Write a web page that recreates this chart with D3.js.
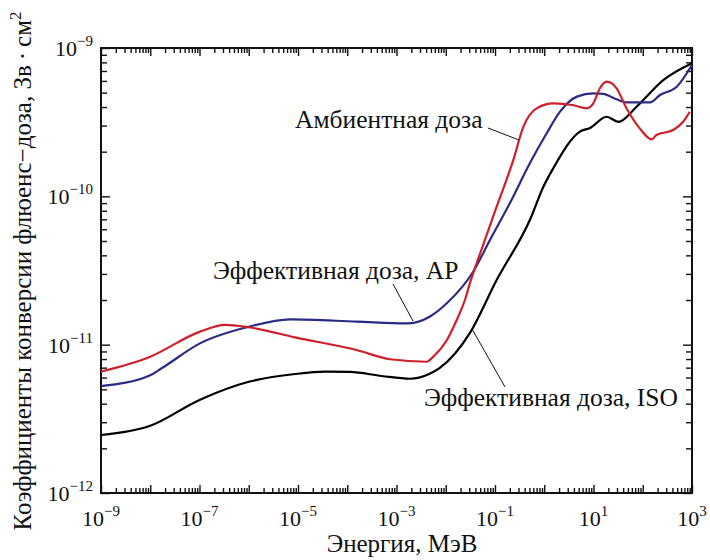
<!DOCTYPE html>
<html>
<head>
<meta charset="utf-8">
<script src="https://cdn.jsdelivr.net/npm/d3@7"></script>
<style>
  html, body { margin: 0; padding: 0; background: #fff; }
  svg text { font-family: "Liberation Serif", "DejaVu Serif", serif; fill: #111; }
</style>
</head>
<body>
<svg id="chart" width="710" height="560"></svg>
<script>
// Neutron fluence-to-dose conversion coefficients, Sv·cm², vs energy in MeV

// Ambient dose H*(10)
const ambientEnergy = [1e-9, 1e-8, 1e-7, 3.3e-7, 1e-6, 8.7e-6, 1.55e-4, 7.4e-4, 4.1e-3, 5.6e-3,
  0.0105, 0.0166, 0.0245, 0.031, 0.05, 0.108, 0.236, 0.376, 0.70, 1.53, 3.7, 7.3, 9.9, 13.5,
  18.6, 29.5, 46.8, 87, 151, 190, 417, 660, 900];
const ambientValue = [6.58e-12, 8.30e-12, 1.22e-11, 1.36e-11, 1.31e-11, 1.12e-11, 9.20e-12, 7.97e-12,
  7.67e-12, 8.30e-12, 1.07e-11, 1.46e-11, 2.00e-11, 2.6e-11, 4.13e-11, 8.51e-11, 1.76e-10, 2.94e-10,
  3.92e-10, 4.23e-10, 4.13e-10, 3.92e-10, 4.23e-10, 5.35e-10, 5.93e-10, 5.35e-10, 3.92e-10, 2.87e-10,
  2.42e-10, 2.59e-10, 2.80e-10, 3.18e-10, 3.72e-10];

// Effective dose, AP geometry
const apEnergy = [1e-9, 1e-8, 1.7e-8, 1.02e-7, 1e-6, 6.9e-6, 1.55e-4, 1.6e-3, 4.8e-3, 0.0105,
  0.036, 0.079, 0.20, 0.51, 1.12, 2.09, 4.6, 10, 15.8, 29.5, 46.8, 141, 224, 490, 1000];
const apValue = [5.26e-12, 6.23e-12, 6.93e-12, 1.02e-11, 1.32e-11, 1.48e-11, 1.43e-11, 1.39e-11,
  1.55e-11, 1.90e-11, 3.10e-11, 5.08e-11, 8.98e-11, 1.67e-10, 2.66e-10, 3.72e-10, 4.70e-10,
  4.95e-10, 4.90e-10, 4.51e-10, 4.30e-10, 4.30e-10, 4.82e-10, 5.48e-10, 7.68e-10];

// Effective dose, ISO geometry
const isoEnergy = [1e-9, 1e-8, 1e-7, 1e-6, 8.7e-6, 3.5e-5, 1.15e-4, 5e-4, 1.9e-3, 4.6e-3, 7.6e-3,
  0.031, 0.108, 0.51, 0.96, 1.53, 5.3, 8.5, 18.5, 31.8, 75, 261, 1000];
const isoValue = [2.46e-12, 2.84e-12, 4.24e-12, 5.62e-12, 6.34e-12, 6.58e-12, 6.55e-12, 6.15e-12,
  5.89e-12, 6.34e-12, 6.97e-12, 1.20e-11, 2.73e-11, 6.92e-11, 1.16e-10, 1.55e-10, 2.73e-10,
  2.89e-10, 3.44e-10, 3.18e-10, 4.02e-10, 6.08e-10, 7.9e-10];

// Axis decades and labelled exponents
const xDecades = d3.range(-9, 4);          // 10^-9 … 10^3 MeV
const yDecades = d3.range(-12, -8);        // 10^-12 … 10^-9
const xLabelExponents = [-9, -7, -5, -3, -1, 1, 3];
const yLabelExponents = [-12, -11, -10, -9];

const xTitle = "Энергия, МэВ";
const yTitle = "Коэффициенты конверсии флюенс−доза, Зв\u2009·\u2009см";

const margin = { left: 101, right: 18, top: 48, bottom: 67 };
const W = 710, H = 560;

const svg = d3.select("#chart");
const x = d3.scaleLog().domain([1e-9, 1e3]).range([margin.left, W - margin.right]);
const y = d3.scaleLog().domain([1e-12, 1e-9]).range([H - margin.bottom, margin.top]);

const [x0, x1] = x.range();
const [y0, y1] = y.range(); // y0 bottom, y1 top

// minor tick values (2..9 per decade)
const xMinor = [];
xDecades.slice(0, -1).forEach(d => { for (let k = 2; k <= 9; k++) xMinor.push(k * Math.pow(10, d)); });
const yMinor = [];
yDecades.slice(0, -1).forEach(d => { for (let k = 2; k <= 9; k++) yMinor.push(k * Math.pow(10, d)); });
const xMajor = xDecades.map(d => Math.pow(10, d));
const yMajor = yDecades.map(d => Math.pow(10, d));

function tickAxis(axisFn, scale, values, size, transform) {
  svg.append("g")
    .attr("transform", transform)
    .call(axisFn(scale).tickValues(values).tickSize(size).tickFormat("").tickSizeOuter(0))
    .call(g => g.select(".domain").remove())
    .call(g => g.selectAll("line").attr("stroke", "#111").attr("stroke-width", 1.4));
}

// inward ticks on all four sides
tickAxis(d3.axisBottom, x, xMinor, -5, `translate(0,${y0})`);
tickAxis(d3.axisBottom, x, xMajor, -8, `translate(0,${y0})`);
tickAxis(d3.axisTop, x, xMinor, -5, `translate(0,${y1})`);
tickAxis(d3.axisTop, x, xMajor, -8, `translate(0,${y1})`);
tickAxis(d3.axisLeft, y, yMinor, -6, `translate(${x0},0)`);
tickAxis(d3.axisLeft, y, yMajor, -9, `translate(${x0},0)`);
tickAxis(d3.axisRight, y, yMinor, -6, `translate(${x1},0)`);
tickAxis(d3.axisRight, y, yMajor, -9, `translate(${x1},0)`);

// frame
svg.append("rect")
  .attr("x", x0).attr("y", y1)
  .attr("width", x1 - x0).attr("height", y0 - y1)
  .attr("fill", "none").attr("stroke", "#111").attr("stroke-width", 2);

// tick labels: 10 with superscript exponent
function powerLabel(sel, exp) {
  sel.append("tspan").text("10");
  sel.append("tspan").attr("dy", -10).attr("font-size", 15).text(exp < 0 ? "\u2212" + (-exp) : String(exp));
}
xLabelExponents.forEach(e => {
  const t = svg.append("text")
    .attr("x", x(Math.pow(10, e))).attr("y", y0 + 33)
    .attr("text-anchor", "middle").attr("font-size", 22);
  powerLabel(t, e);
});
yLabelExponents.forEach(e => {
  const t = svg.append("text")
    .attr("x", x0 - 8).attr("y", y(Math.pow(10, e)) + 8)
    .attr("text-anchor", "end").attr("font-size", 22);
  powerLabel(t, e);
});

// axis titles
svg.append("text")
  .attr("x", 402).attr("y", H - 8)
  .attr("text-anchor", "middle").attr("font-size", 25)
  .text(xTitle);

const yt = svg.append("text")
  .attr("transform", `translate(31,271) rotate(-90)`)
  .attr("text-anchor", "middle").attr("font-size", 25);
yt.append("tspan").text(yTitle);
yt.append("tspan").attr("dy", -10).attr("font-size", 17).text("2");

// curves
const line = d3.line()
  .x(d => x(d[0]))
  .y(d => y(d[1]))
  .curve(d3.curveMonotoneX);

const series = [
  { e: isoEnergy, v: isoValue, color: "#000000" },
  { e: apEnergy, v: apValue, color: "#2b2b86" },
  { e: ambientEnergy, v: ambientValue, color: "#d01f29" }
];
series.forEach(s => {
  svg.append("path")
    .datum(d3.zip(s.e, s.v))
    .attr("d", line)
    .attr("fill", "none")
    .attr("stroke", s.color)
    .attr("stroke-width", 2.2)
    .attr("stroke-linejoin", "round");
});

// annotations with leader lines
const notes = [
  { text: "Амбиентная доза", tx: 295, ty: 128, from: [488, 128], to: [519, 140] },
  { text: "Эффективная доза, AP", tx: 213, ty: 279, from: [393, 284], to: [413, 321] },
  { text: "Эффективная доза, ISO", tx: 424, ty: 406, from: [505, 387], to: [472, 329] }
];
notes.forEach(n => {
  svg.append("line")
    .attr("x1", n.from[0]).attr("y1", n.from[1])
    .attr("x2", n.to[0]).attr("y2", n.to[1])
    .attr("stroke", "#111").attr("stroke-width", 1);
  svg.append("text")
    .attr("x", n.tx).attr("y", n.ty)
    .attr("font-size", 25.5)
    .text(n.text);
});
</script>
</body>
</html>
